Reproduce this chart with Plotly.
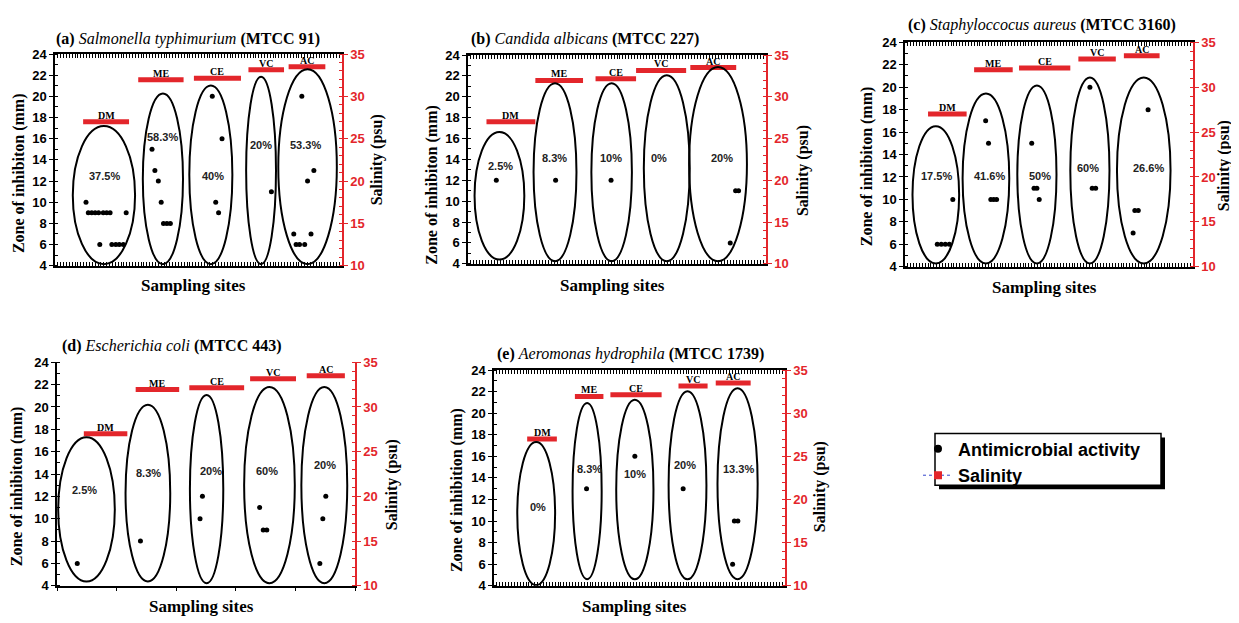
import plotly.graph_objects as go

# The page body has an 8 px default margin, so the figure is drawn 8 px in
# from the top-left corner of the window; size it to fill the rest exactly.
PAGE_W, PAGE_H = 1239, 623
OFF = 8
W, H = PAGE_W - OFF, PAGE_H - OFF

# ---------------- data ----------------
sites = ["DM", "ME", "CE", "VC", "AC"]
salinity = [27.0, 31.95, 32.15, 33.15, 33.5]

titles = [
    "<b>(a)</b> <i>Salmonella typhimurium</i> <b>(MTCC 91)</b>",
    "<b>(b)</b> <i>Candida albicans</i> <b>(MTCC 227)</b>",
    "<b>(c)</b> <i>Staphyloccocus aureus</i> <b>(MTCC 3160)</b>",
    "<b>(d)</b> <i>Escherichia coli</i> <b>(MTCC 443)</b>",
    "<b>(e)</b> <i>Aeromonas hydrophila</i> <b>(MTCC 1739)</b>",
]
ytitles = ["Zone of inhibiton (mm)"] * 4 + ["Zone of inhibition (mm)"]

# panel (a)
ell_x0_a = [0.31, 1.53, 2.34, 3.33, 3.89]
ell_x1_a = [1.395, 2.23, 3.09, 3.85, 4.91]
ell_top_a = [17.19, 20.26, 21.02, 21.85, 22.56]
ell_bot_a = [4.15, 4.15, 4.15, 4.15, 4.15]
sal_x0_a = [0.49, 1.45, 2.42, 3.37, 4.07]
sal_x1_a = [1.29, 2.24, 3.24, 3.99, 4.71]
pct_a = ["37.5%", "58.3%", "40%", "20%", "53.3%"]
pct_x_a = [0.86, 1.87, 2.76, 3.59, 4.36]
pct_y_a = [12.44, 16.2, 12.44, 15.44, 15.44]
pts_x_a = [0.54, 0.58, 0.64, 0.70, 0.76, 0.84, 0.90, 0.96, 1.24, 0.78, 0.99, 1.06, 1.12, 1.19,
           1.69, 1.74, 1.80, 1.85, 1.89, 1.95, 2.01,
           2.74, 2.91, 2.80, 2.85,
           3.77,
           4.30, 4.51, 4.40, 4.16, 4.46, 4.20, 4.26, 4.35]
pts_y_a = [10, 9, 9, 9, 9, 9, 9, 9, 9, 6, 6, 6, 6, 6,
           15, 13, 12, 10, 8, 8, 8,
           20, 16, 10, 9,
           11,
           20, 13, 12, 7, 7, 6, 6, 6]

# panel (b)
ell_x0_b = [0.11, 1.10, 2.07, 2.95, 3.71]
ell_x1_b = [0.945, 1.82, 2.75, 3.72, 4.68]
ell_top_b = [16.62, 21.29, 21.29, 22.07, 22.85]
ell_bot_b = [4.4, 4.25, 4.25, 4.25, 4.25]
sal_x0_b = [0.31, 1.13, 2.14, 2.82, 3.73]
sal_x1_b = [1.13, 1.93, 2.82, 3.66, 4.50]
pct_b = ["2.5%", "8.3%", "10%", "0%", "20%"]
pct_x_b = [0.54, 1.45, 2.40, 3.20, 4.26]
pct_y_b = [13.35, 14.12, 14.12, 14.12, 14.12]
pts_x_b = [0.475, 1.47, 2.40, 4.49, 4.54, 4.40]
pts_y_b = [12, 12, 12, 11, 11, 6]

# panel (c)
ell_x0_c = [0.13, 1.00, 1.95, 2.87, 3.68]
ell_x1_c = [0.94, 1.81, 2.63, 3.55, 4.61]
ell_top_c = [16.53, 19.43, 20.15, 20.87, 20.87]
ell_bot_c = [4.29, 4.29, 4.29, 4.29, 4.29]
sal_x0_c = [0.40, 1.20, 1.98, 3.01, 3.80]
sal_x1_c = [1.07, 1.87, 2.87, 3.66, 4.42]
pct_c = ["17.5%", "41.6%", "50%", "60%", "26.6%"]
pct_x_c = [0.55, 1.46, 2.34, 3.18, 4.22]
pct_y_c = [12.05, 12.05, 12.05, 12.77, 12.77]
pts_x_c = [0.83, 0.56, 0.63, 0.70, 0.77,
           1.40, 1.45, 1.49, 1.54, 1.59,
           2.20, 2.24, 2.29, 2.33,
           3.21, 3.25, 3.31,
           4.22, 3.99, 4.05, 3.96]
pts_y_c = [10, 6, 6, 6, 6,
           17, 15, 10, 10, 10,
           15, 11, 11, 10,
           20, 11, 11,
           18, 9, 9, 7]

# panel (d)
ell_x0_d = [0.02, 1.15, 2.23, 3.14, 4.10]
ell_x1_d = [0.97, 1.90, 2.79, 3.99, 4.87]
ell_top_d = [17.29, 20.21, 21.08, 21.78, 21.78]
ell_bot_d = [4.38, 4.38, 4.23, 4.23, 4.23]
sal_x0_d = [0.45, 1.32, 2.22, 3.24, 4.19]
sal_x1_d = [1.18, 2.05, 3.14, 4.01, 4.83]
pct_d = ["2.5%", "8.3%", "20%", "60%", "20%"]
pct_x_d = [0.46, 1.53, 2.58, 3.53, 4.50]
pct_y_d = [12.54, 14.09, 14.29, 14.29, 14.82]
pts_x_d = [0.34, 1.40, 2.44, 2.40, 3.40, 3.46, 3.52, 4.51, 4.46, 4.41]
pts_y_d = [6, 8, 12, 10, 11, 9, 9, 12, 10, 6]

# panel (e)
ell_x0_e = [0.40, 1.35, 2.10, 3.00, 3.84]
ell_x1_e = [1.05, 1.85, 2.74, 3.65, 4.53]
ell_top_e = [17.33, 20.95, 21.25, 22.04, 22.31]
ell_bot_e = [4.06, 4.6, 4.6, 4.6, 4.6]
sal_x0_e = [0.57, 1.39, 2.00, 3.17, 3.81]
sal_x1_e = [1.08, 1.88, 2.88, 3.67, 4.41]
pct_e = ["0%", "8.3%", "10%", "20%", "13.3%"]
pct_x_e = [0.76, 1.64, 2.42, 3.29, 4.20]
pct_y_e = [11.3, 14.8, 14.32, 15.16, 14.8]
pts_x_e = [1.59, 2.42, 3.25, 4.13, 4.19, 4.10]
pts_y_e = [13, 16, 13, 10, 10, 6]

# ---------------- layout geometry (window pixels) ----------------
boxes = [  # left, right, top, bottom of plot area
    (55, 342, 48, 265),
    (468, 766, 49, 263),
    (905, 1193, 36, 266),
    (57, 355, 364, 593),
    (494, 785, 372, 593),
]
title_pos = [(188, 33), (585, 33), (1042, 18), (172, 347), (630, 355)]
ytitle_pos = [(19, 170), (432, 182), (867, 163), (17, 491), (457, 495)]
rtitle_pos = [(377, 157), (803, 168), (1224, 163), (392, 490), (820, 492)]
xtitle_pos = [(193, 285), (612, 285), (1044, 287), (201, 614), (634, 614)]

panels = [
    (ell_x0_a, ell_x1_a, ell_top_a, ell_bot_a, sal_x0_a, sal_x1_a, pct_a, pct_x_a, pct_y_a, pts_x_a, pts_y_a),
    (ell_x0_b, ell_x1_b, ell_top_b, ell_bot_b, sal_x0_b, sal_x1_b, pct_b, pct_x_b, pct_y_b, pts_x_b, pts_y_b),
    (ell_x0_c, ell_x1_c, ell_top_c, ell_bot_c, sal_x0_c, sal_x1_c, pct_c, pct_x_c, pct_y_c, pts_x_c, pts_y_c),
    (ell_x0_d, ell_x1_d, ell_top_d, ell_bot_d, sal_x0_d, sal_x1_d, pct_d, pct_x_d, pct_y_d, pts_x_d, pts_y_d),
    (ell_x0_e, ell_x1_e, ell_top_e, ell_bot_e, sal_x0_e, sal_x1_e, pct_e, pct_x_e, pct_y_e, pts_x_e, pts_y_e),
]

RED = "#e3262b"
SERIF = "Liberation Serif, Times New Roman, serif"
SANS = "Liberation Sans, Arial, sans-serif"


def px(x):
    return (x - OFF) / W


def py(y):
    return 1 - (y - OFF) / H


fig = go.Figure()
layout = dict(
    width=W, height=H, margin=dict(l=0, r=0, t=0, b=0),
    paper_bgcolor="white", plot_bgcolor="white",
    showlegend=True,
)
shapes = []
annotations = []

for i, (ex0, ex1, etop, ebot, sx0, sx1, pct, pctx, pcty, ptx, pty) in enumerate(panels):
    xid = i + 1
    yl = 2 * i + 1
    yr = 2 * i + 2
    xa = "x" if xid == 1 else f"x{xid}"
    ya_l = "y" if yl == 1 else f"y{yl}"
    ya_r = f"y{yr}"
    L, R, T, B = boxes[i]

    xkey = "xaxis" if xid == 1 else f"xaxis{xid}"
    if i == 3:
        layout[xkey] = dict(domain=[px(L), px(R)], anchor=ya_l, range=[0, 5],
                            showticklabels=False, ticks="outside", ticklen=4, dtick=1, tick0=0,
                            tickcolor="black", tickwidth=1.2,
                            showline=True, linecolor="black", linewidth=1.5,
                            showgrid=False, zeroline=False)
        # top ticks without an axis line
        layout["xaxis6"] = dict(domain=[px(L), px(R)], anchor=ya_l, overlaying=xa, side="top",
                                range=[0, 5], showticklabels=False, ticks="inside", ticklen=4,
                                dtick=0.5, tick0=0, tickcolor="black", tickwidth=1.2,
                                showline=False, showgrid=False, zeroline=False)
    else:
        layout[xkey] = dict(domain=[px(L), px(R)], anchor=ya_l, range=[0, 5],
                            showticklabels=False, ticks="inside", ticklen=4, dtick=0.5, tick0=0,
                            tickcolor="black", tickwidth=1,
                            minor=dict(dtick=0.05, ticks="inside", ticklen=3, tickcolor="black", tickwidth=1),
                            mirror="allticks",
                            showline=True, linecolor="black", linewidth=1.5,
                            showgrid=False, zeroline=False)
    ykey_l = "yaxis" if yl == 1 else f"yaxis{yl}"
    layout[ykey_l] = dict(domain=[py(B), py(T)], anchor=xa, range=[4, 24], dtick=2, tick0=4,
                          ticks="outside", ticklen=4, tickcolor="black", tickwidth=1.2,
                          minor=dict(dtick=1, ticks="inside", ticklen=3, tickcolor="black"),
                          showline=True, linecolor="black", linewidth=1.5,
                          tickfont=dict(family=SANS, size=13, color="black", weight="bold"),
                          showgrid=False, zeroline=False)
    layout[f"yaxis{yr}"] = dict(domain=[py(B), py(T)], anchor=xa, overlaying=ya_l, side="right",
                                range=[10, 35], dtick=5, tick0=10,
                                ticks="outside", ticklen=4, tickcolor=RED, tickwidth=1.2,
                                minor=dict(dtick=1, ticks="inside", ticklen=3, tickcolor=RED),
                                showline=True, linecolor=RED, linewidth=1.5,
                                tickfont=dict(family=SANS, size=13, color=RED, weight="bold"),
                                showgrid=False, zeroline=False)

    # ellipses
    for k in range(len(sites)):
        shapes.append(dict(type="circle", xref=xa, yref=ya_l,
                           x0=ex0[k], x1=ex1[k], y0=ebot[k], y1=etop[k],
                           line=dict(color="black", width=2)))
    # salinity bars
    for k in range(len(sites)):
        fig.add_trace(go.Scatter(x=[sx0[k], sx1[k]], y=[salinity[k], salinity[k]],
                                 mode="lines", line=dict(color=RED, width=5),
                                 xaxis=xa, yaxis=ya_r, showlegend=False, hoverinfo="skip"))
        annotations.append(dict(xref=xa, yref=ya_r, x=(sx0[k] + sx1[k]) / 2, y=salinity[k],
                                text=f"<b>{sites[k]}</b>", showarrow=False, yanchor="bottom",
                                yshift=-1, font=dict(family=SERIF, size=10, color="black")))
    # points
    fig.add_trace(go.Scatter(x=ptx, y=pty, mode="markers",
                             marker=dict(color="black", size=5, symbol="circle"),
                             xaxis=xa, yaxis=ya_l, showlegend=False))
    # percentages
    for k in range(len(pct)):
        annotations.append(dict(xref=xa, yref=ya_l, x=pctx[k], y=pcty[k], text=f"<b>{pct[k]}</b>",
                                showarrow=False, font=dict(family=SANS, size=11, color="#222")))

    # titles
    tx, ty = title_pos[i]
    annotations.append(dict(xref="paper", yref="paper", x=px(tx), y=py(ty), text=titles[i],
                            showarrow=False, xanchor="center", yanchor="middle",
                            font=dict(family=SERIF, size=16, color="black")))
    tx, ty = ytitle_pos[i]
    annotations.append(dict(xref="paper", yref="paper", x=px(tx), y=py(ty), text=f"<b>{ytitles[i]}</b>",
                            showarrow=False, textangle=-90, xanchor="center", yanchor="middle",
                            font=dict(family=SERIF, size=16, color="black")))
    tx, ty = rtitle_pos[i]
    annotations.append(dict(xref="paper", yref="paper", x=px(tx), y=py(ty), text="<b>Salinity (psu)</b>",
                            showarrow=False, textangle=-90, xanchor="center", yanchor="middle",
                            font=dict(family=SERIF, size=16, color="black")))
    tx, ty = xtitle_pos[i]
    annotations.append(dict(xref="paper", yref="paper", x=px(tx), y=py(ty), text="<b>Sampling sites</b>",
                            showarrow=False, xanchor="center", yanchor="middle",
                            font=dict(family=SERIF, size=17, color="black")))

# legend entries
fig.add_trace(go.Scatter(x=[None], y=[None], mode="markers", name="Antimicrobial activity",
                         marker=dict(color="black", size=8, symbol="circle"), xaxis="x", yaxis="y"))
fig.add_trace(go.Scatter(x=[None], y=[None], mode="lines+markers", name="Salinity",
                         marker=dict(color=RED, size=8, symbol="square"),
                         line=dict(color="#3344cc", width=1, dash="dot"), xaxis="x", yaxis="y"))

# legend frame and shadow
shapes.append(dict(type="rect", xref="paper", yref="paper", layer="above",
                   x0=px(939), x1=px(1165), y0=py(494), y1=py(441),
                   fillcolor="black", line=dict(width=0)))
shapes.append(dict(type="rect", xref="paper", yref="paper", layer="above",
                   x0=px(935), x1=px(1161), y0=py(490), y1=py(437),
                   fillcolor="white", line=dict(color="black", width=1.5)))

layout["legend"] = dict(x=px(918), y=py(434), xanchor="left", yanchor="top",
                        bgcolor="rgba(0,0,0,0)", borderwidth=0,
                        font=dict(family=SANS, size=18, color="black", weight="bold"),
                        tracegroupgap=0, itemwidth=30)
layout["shapes"] = shapes
layout["annotations"] = annotations
fig.update_layout(**layout)

fig.write_html("out.html")
